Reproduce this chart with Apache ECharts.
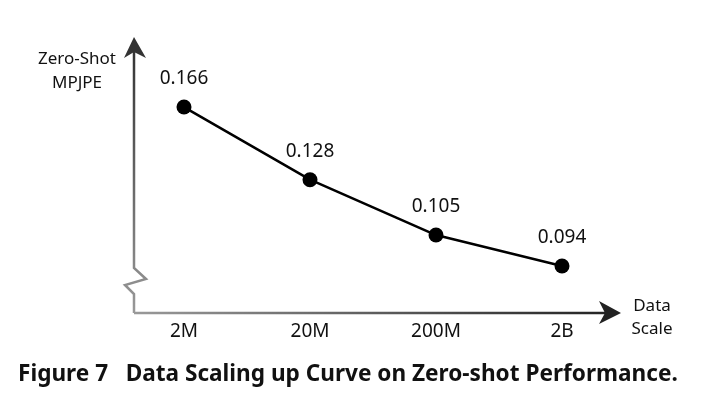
<!DOCTYPE html>
<html>
<head>
<meta charset="utf-8">
<script src="https://cdn.jsdelivr.net/npm/echarts@6/dist/echarts.min.js"></script>
<style>
  html, body { margin: 0; padding: 0; background: #fff; }
  #chart { width: 701px; height: 405px; }
</style>
</head>
<body>
<div id="chart"></div>
<script>
// data
var scales = ['2M', '20M', '200M', '2B'];
var mpjpe = [0.166, 0.128, 0.105, 0.094];
var yName = ['Zero-Shot', 'MPJPE'];
var xName = ['Data', 'Scale'];
var caption = 'Figure 7   Data Scaling up Curve on Zero-shot Performance.';

var font = '"Noto Sans", sans-serif';
var myChart = echarts.init(document.getElementById('chart'));

// axis drawn by hand (break mark + arrows), grey -> dark like the original
var vGrad = new echarts.graphic.LinearGradient(0, 1, 0, 0, [
    { offset: 0, color: '#9a9a9a' },
    { offset: 1, color: '#333' }
]);
var hGrad = new echarts.graphic.LinearGradient(0, 0, 1, 0, [
    { offset: 0, color: '#9a9a9a' },
    { offset: 1, color: '#222' }
]);

var option = {
    animation: false,
    grid: { left: 121, right: 76, top: 55, height: 256 },
    xAxis: {
        type: 'category',
        data: scales,
        boundaryGap: true,
        axisLine: { show: false },
        axisTick: { show: false },
        axisLabel: { color: '#111', fontSize: 19, fontFamily: font, margin: 11 }
    },
    yAxis: {
        type: 'log',
        min: 0.08,
        max: 0.2,
        axisLine: { show: false },
        axisTick: { show: false },
        axisLabel: { show: false },
        splitLine: { show: false }
    },
    series: [{
        type: 'line',
        data: mpjpe,
        symbol: 'circle',
        symbolSize: 15,
        itemStyle: { color: '#000' },
        lineStyle: { color: '#000', width: 2.5 },
        label: {
            show: true,
            position: 'top',
            distance: 11,
            color: '#111',
            fontSize: 19,
            fontFamily: font,
            formatter: function (p) { return p.value.toFixed(3); }
        }
    }],
    graphic: [
        {
            type: 'polyline',
            shape: { points: [[134, 313], [134, 294], [125, 285], [146, 279], [134, 268], [134, 50]] },
            style: { stroke: vGrad, lineWidth: 2.5, fill: null }
        },
        {
            type: 'polygon',
            shape: { points: [[134, 37], [146, 58], [134, 52], [124, 58]] },
            style: { fill: '#333' }
        },
        {
            type: 'line',
            shape: { x1: 134, y1: 313, x2: 610, y2: 313 },
            style: { stroke: hGrad, lineWidth: 2.5 }
        },
        {
            type: 'polygon',
            shape: { points: [[621, 313], [599, 301], [605, 313], [599, 324]] },
            style: { fill: '#222' }
        },
        {
            type: 'text',
            x: 77, y: 47,
            style: { text: yName.join('\n'), fill: '#111', font: '17px ' + font, align: 'center', lineHeight: 24 }
        },
        {
            type: 'text',
            x: 652, y: 295,
            style: { text: xName.join('\n'), fill: '#111', font: '17px ' + font, align: 'center', lineHeight: 23 }
        },
        {
            type: 'text',
            x: 18, y: 363,
            style: { text: caption, fill: '#111', font: 'bold 22.6px ' + font }
        }
    ]
};
myChart.setOption(option);
</script>
</body>
</html>
